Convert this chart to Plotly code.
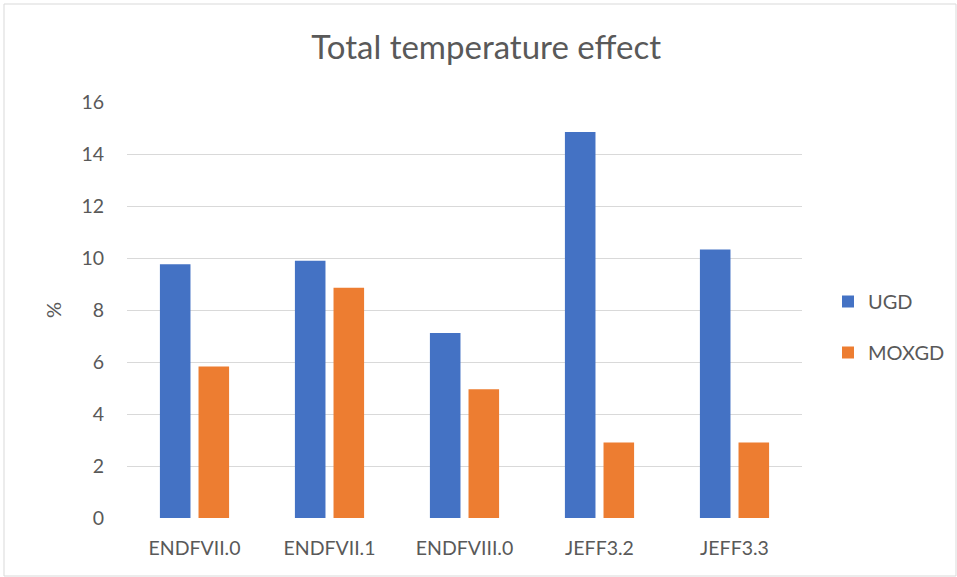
import plotly.graph_objects as go

categories = ["ENDFVII.0", "ENDFVII.1", "ENDFVIII.0", "JEFF3.2", "JEFF3.3"]
ugd = [9.76, 9.89, 7.12, 14.85, 10.33]
moxgd = [5.83, 8.86, 4.95, 2.90, 2.90]
y_ticks = [0, 2, 4, 6, 8, 10, 12, 14, 16]

text_color = "#595959"
font_family = "Lato, 'Open Sans', sans-serif"

fig = go.Figure()
fig.add_trace(go.Bar(x=categories, y=ugd, name="UGD",
                     marker=dict(color="#4472C4", line=dict(width=0)),
                     legendgroup="a"))
fig.add_trace(go.Bar(x=categories, y=moxgd, name="MOXGD",
                     marker=dict(color="#ED7D31", line=dict(width=0)),
                     legendgroup="b"))

L, R, T, B = 127, 155, 102, 59
W, H = 957, 577
pw = W - L - R
ph = H - T - B

def px_x(v):
    return (v - L) / pw

def px_y(v):
    return (H - B - v) / ph

fig.update_layout(
    width=W, height=H,
    margin=dict(l=L, r=R, t=T, b=B, autoexpand=False),
    paper_bgcolor="white", plot_bgcolor="white",
    font=dict(family=font_family, color=text_color, size=19),
    title=dict(text="Total temperature effect", x=0.508, xanchor="center",
               y=1 - 47 / H, yanchor="middle",
               font=dict(size=33, color=text_color, family=font_family)),
    barmode="group", bargap=0.428, bargroupgap=0.208,
    showlegend=True,
    legend=dict(x=px_x(828), xanchor="left", y=px_y(327), yanchor="middle",
                font=dict(size=20, color=text_color),
                tracegroupgap=22, itemwidth=30, bgcolor="rgba(0,0,0,0)"),
    xaxis=dict(showgrid=False, showline=False, ticks="",
               ticklabelstandoff=16,
               tickfont=dict(size=19.5, color=text_color)),
    yaxis=dict(range=[0, 16], tickvals=y_ticks, showgrid=True,
               gridcolor="#D9D9D9", gridwidth=1.3, zeroline=False,
               showline=False, ticks="", ticklabelstandoff=22,
               tickfont=dict(size=19.5, color=text_color),
               title=dict(text="%", standoff=14,
                          font=dict(size=20, color=text_color))),
    shapes=[dict(type="rect", xref="paper", yref="paper",
                 x0=px_x(4), x1=px_x(956), y0=px_y(576), y1=px_y(4),
                 line=dict(color="#D9D9D9", width=1), layer="below")],
)

fig.write_html("out.html")
